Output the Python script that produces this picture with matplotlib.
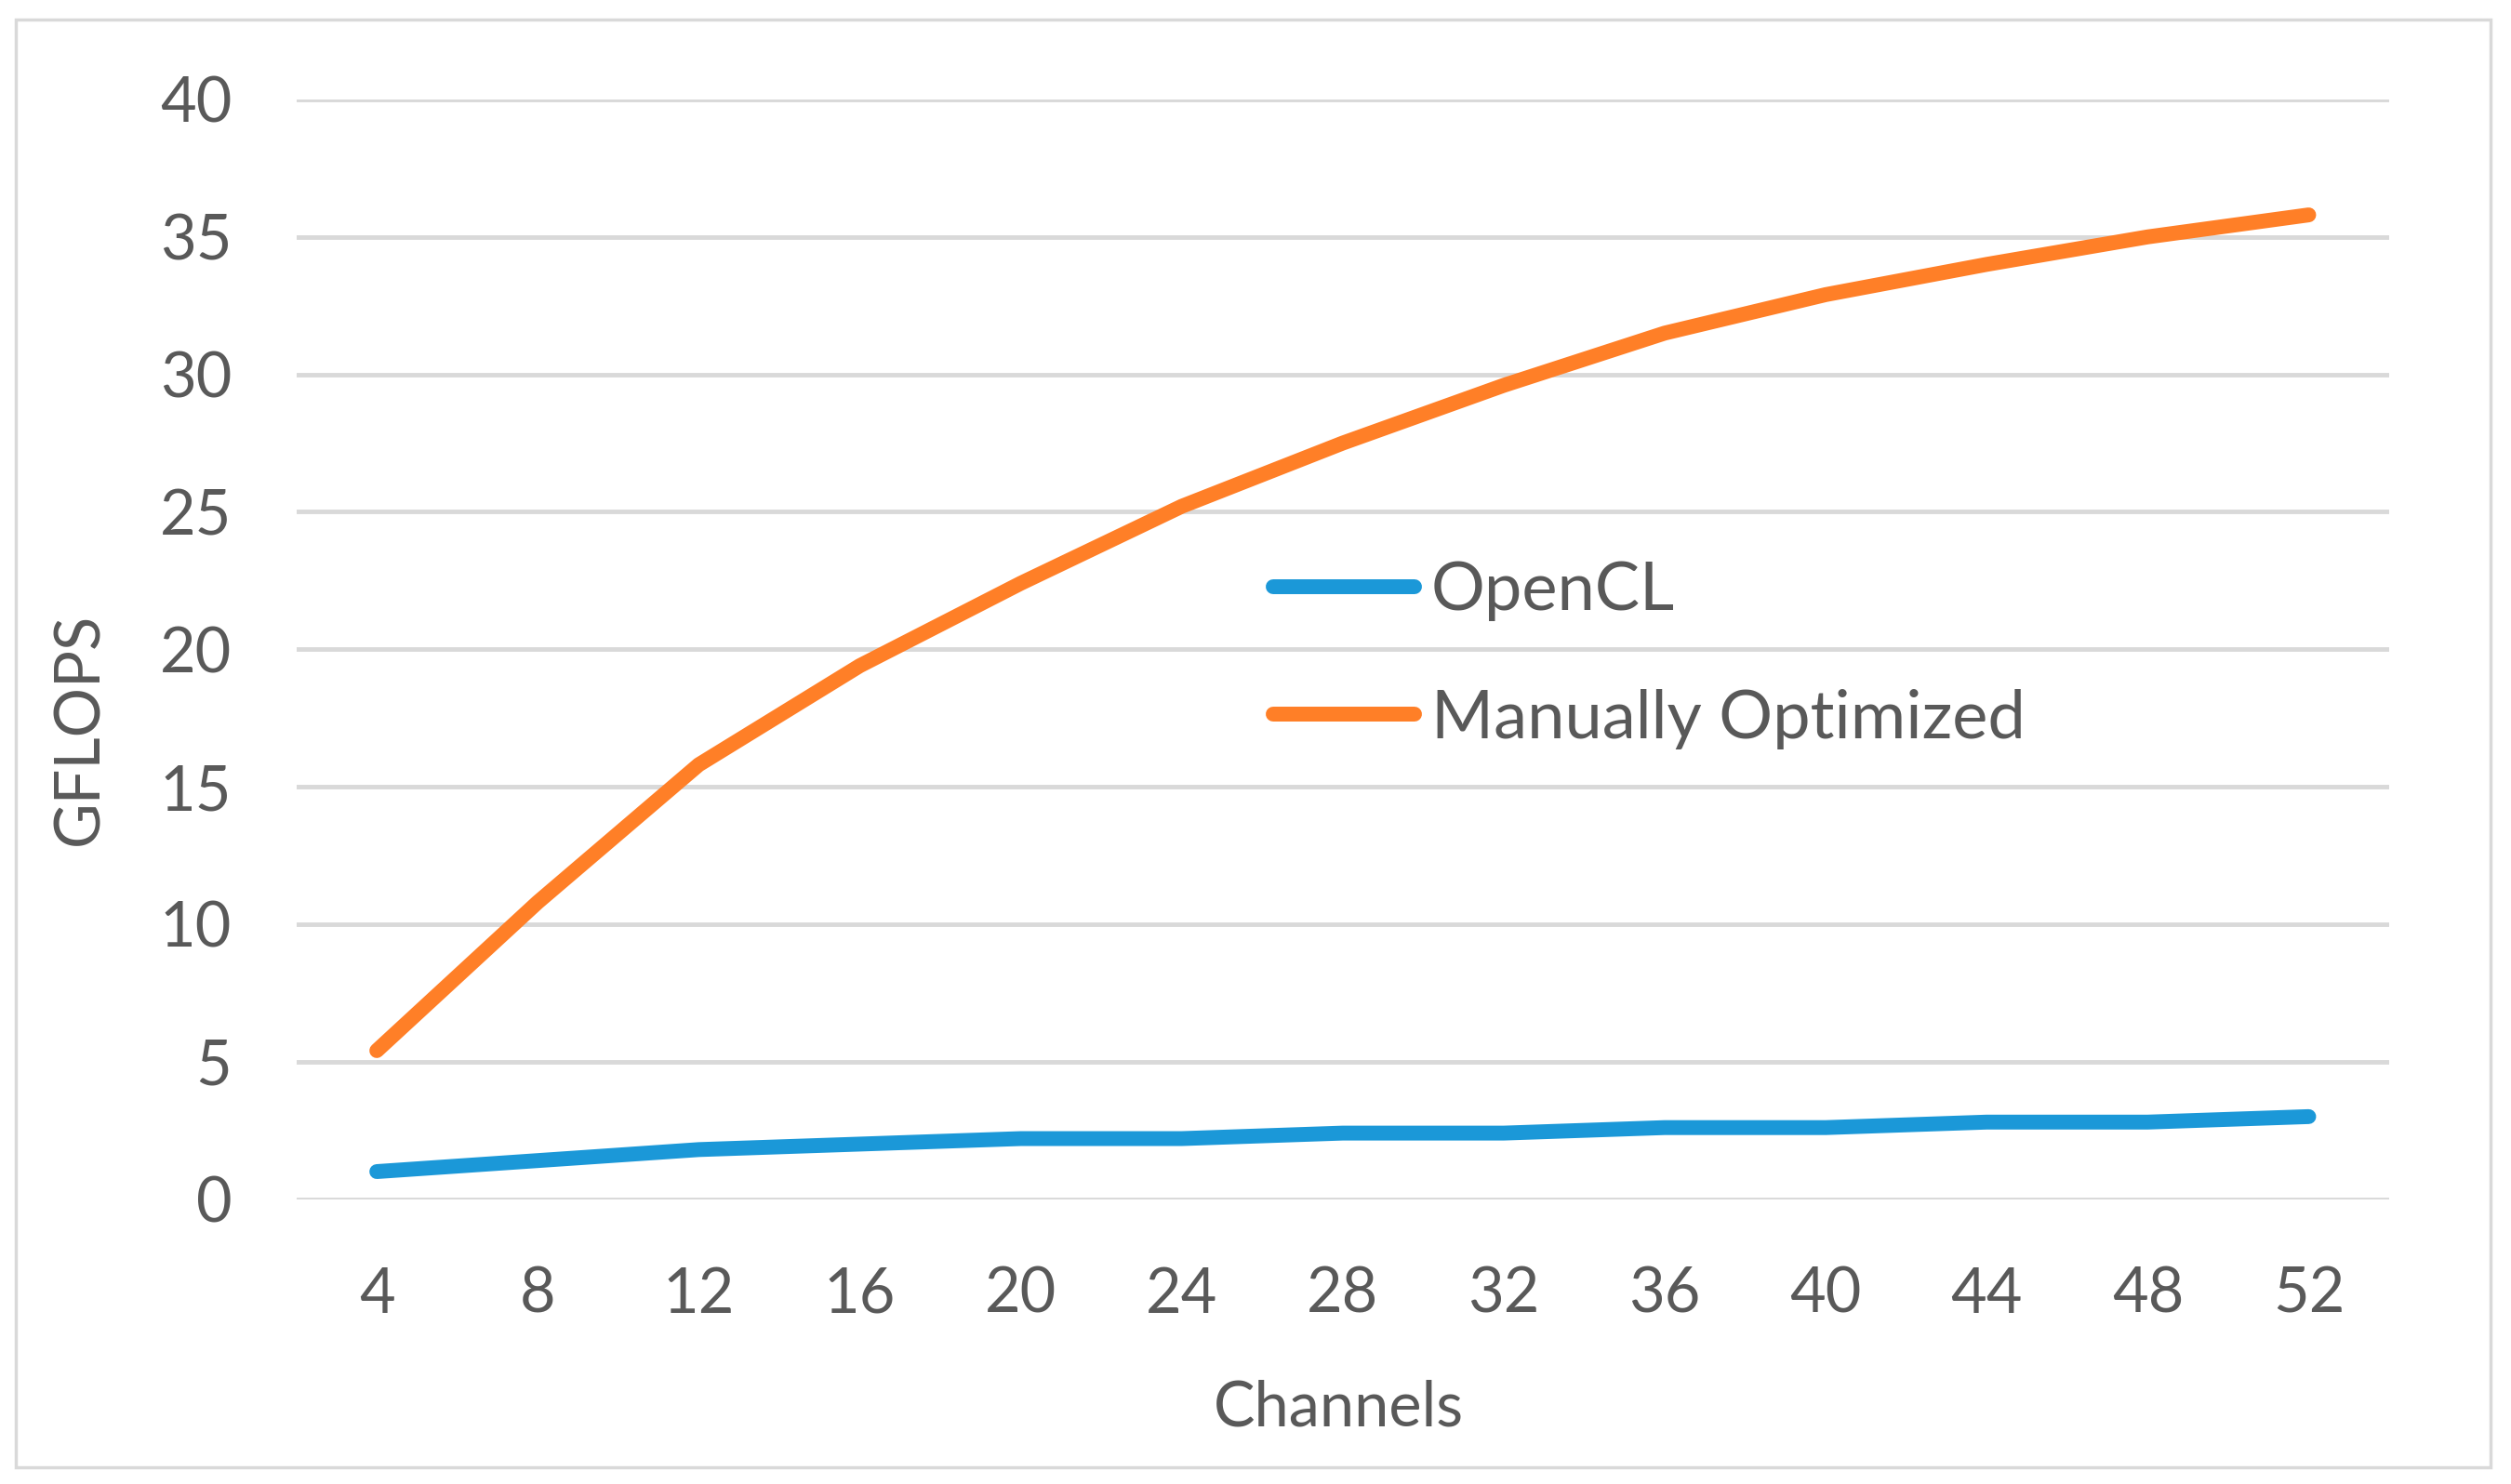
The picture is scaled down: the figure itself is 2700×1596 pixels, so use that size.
import numpy as np
import matplotlib.pyplot as plt
from matplotlib.patches import Rectangle

channels = [4, 8, 12, 16, 20, 24, 28, 32, 36, 40, 44, 48, 52]
opencl = [1.0, 1.4, 1.8, 2.0, 2.2, 2.2, 2.4, 2.4, 2.6, 2.6, 2.8, 2.8, 3.0]
manual = [5.4, 10.8, 15.8, 19.4, 22.4, 25.2, 27.5, 29.6, 31.5, 32.9, 34.0, 35.0, 35.8]
yticks = [0, 5, 10, 15, 20, 25, 30, 35, 40]

plt.rcParams['font.family'] = ['Lato', 'DejaVu Sans']
txt = "#595959"
fs = 48

fig = plt.figure(figsize=(27, 15.96), dpi=100)
fig.patches.append(Rectangle((0.0064, 0.011), 0.9856, 0.976, transform=fig.transFigure,
                             fill=False, edgecolor="#D9D9D9", linewidth=2.5))

ax = fig.add_axes([0.118, 0.192, 0.8335, 0.741])
xpos = np.arange(len(channels))
ax.plot(xpos, opencl, color="#1B98D8", lw=11.5, solid_capstyle="round", label="OpenCL", zorder=3)
ax.plot(xpos, manual, color="#FF7F27", lw=11.5, solid_capstyle="round", label="Manually Optimized", zorder=3)

ax.set_xlim(-0.5, len(channels) - 0.5)
ax.set_ylim(0, 40)
ax.set_yticks(yticks)
ax.set_xticks(xpos)
ax.set_xticklabels([str(c) for c in channels])
ax.grid(axis="y", color="#D9D9D9", lw=3.5)
ax.set_axisbelow(True)
for s in ax.spines.values():
    s.set_visible(False)
ax.tick_params(axis="y", length=0, pad=50, labelsize=fs, labelcolor=txt)
ax.tick_params(axis="x", length=0, pad=52, labelsize=fs, labelcolor=txt)

fig.text(0.533, 0.051, "Channels", ha="center", va="center", fontsize=fs, color=txt)
fig.text(0.032, 0.509, "GFLOPS", ha="center", va="center", rotation=90, fontsize=fs, color=txt)

leg = ax.legend(loc="upper left", bbox_to_anchor=(0.507, 0.622), bbox_transform=fig.transFigure,
                frameon=False, fontsize=52, handlelength=2.1, handletextpad=0.25,
                labelspacing=1.0, borderpad=0, borderaxespad=0)
for t in leg.get_texts():
    t.set_color(txt)

fig.savefig("out.png", dpi=100)
